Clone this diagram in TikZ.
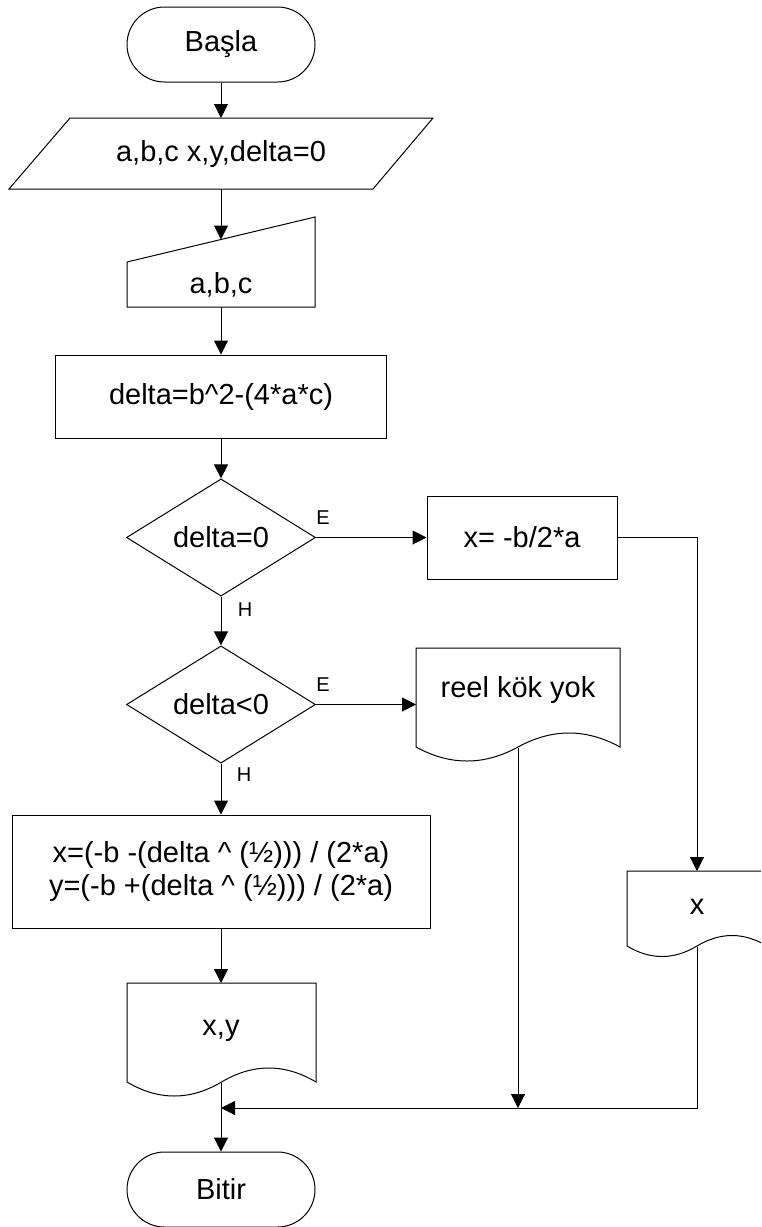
\documentclass[tikz,border=0pt]{standalone}
\usepackage{fontspec}
\setmainfont{Liberation Sans}
\usetikzlibrary{shapes.misc,shapes.geometric,arrows.meta}
\tikzset{
  base/.style={font=\fontsize{14.5pt}{16.5pt}\selectfont, inner sep=0pt, align=center},
  proc/.style={base, draw, rectangle, line width=0.5pt},
  term/.style={base, draw, rounded rectangle, line width=0.5pt, minimum width=94pt, minimum height=37.5pt},
  decide/.style={base, draw, diamond, line width=0.5pt, minimum width=94.5pt, minimum height=56pt},
  ghost/.style={base, rectangle},
  lbl/.style={font=\fontsize{10pt}{12pt}\selectfont, inner sep=0pt},
  conn/.style={line width=0.5pt, -{Triangle[length=7pt,width=7pt]}},
  outline/.style={line width=0.5pt}
}
\newcommand\DocOutline[5]{%
  \draw[outline] (#1,#3) -- (#2,#3) -- (#2,#4)
    .. controls ({#2-(#2-#1)/6},{#4-4*#5/3}) and ({(#1+#2)/2+(#2-#1)/6},{#4-4*#5/3}) .. ({(#1+#2)/2},#4)
    .. controls ({(#1+#2)/2-(#2-#1)/6},{#4+4*#5/3}) and ({#1+(#2-#1)/6},{#4+4*#5/3}) .. (#1,#4) -- cycle;}
\begin{document}
\begin{tikzpicture}[x=0.5pt,y=-0.5pt]
\useasboundingbox (0,0) rectangle (761,1227);
\fill[white] (0,0) rectangle (761,1227);
\begin{scope}
\clip (0,0) rectangle (761,1227);

% start
\node[term] (start) at (221,44.5) {Başla};

% input parallelogram
\draw[outline] (9,189) -- (70,118) -- (433,118) -- (373,189) -- cycle;
\node[ghost, minimum width=181pt, minimum height=35.5pt] (input) at (221,153.5) {a,b,c x,y,delta=0};

% manual input
\draw[outline] (127,262) -- (315,217) -- (315,307) -- (127,307) -- cycle;
\node[ghost, minimum width=94pt, minimum height=45pt] (manual) at (221,262) {};
\node[base] (manualtxt) at (221,285) {a,b,c};
\coordinate (mantop) at (221,239.5);

% delta computation
\node[proc, minimum width=165.5pt, minimum height=41.5pt] (delta) at (221,396.5) {delta=b\^{}2-(4*a*c)};

% decisions
\node[decide] (d1) at (221,537.5) {delta=0};
\node[decide] (d2) at (221,704.5) {delta<0};

% x box
\node[proc, minimum width=95pt, minimum height=41.5pt] (xbox) at (522,537.5) {x= -b/2*a};

% reel kok yok document
\DocOutline{416}{620}{648}{747}{14}
\node[ghost, minimum width=102pt, minimum height=42pt] (reel) at (518,690) {reel kök yok};
\coordinate (reelbot) at (518,748);

% calc box
\node[proc, minimum width=209pt, minimum height=56.5pt] (calc) at (221,871.5)
  {x=(-b -(delta \^{} (½))) / (2*a)\\y=(-b +(delta \^{} (½))) / (2*a)};

% x,y document
\DocOutline{127}{316}{983}{1082}{14}
\node[ghost, minimum width=94.5pt, minimum height=49.5pt] (xydoc) at (221,1031) {x,y};
\coordinate (xytop) at (221,983);
\coordinate (xybot) at (221,1083);

% x document (cut by the right border)
\DocOutline{627}{767}{871}{946}{10.5}
\node[ghost, minimum width=70pt, minimum height=37.5pt] (xdoc) at (697,907) {x};
\coordinate (xdoctop) at (697,871);
\coordinate (xdocbot) at (697,947);

% end
\node[term] (end) at (221,1189.5) {Bitir};

% merge points
\coordinate (mergeA) at (221,1108);
\coordinate (mergeR) at (518,1108);
\coordinate (mergeX) at (697,1108);
\coordinate (inputtop) at (221,118);
\coordinate (inputbot) at (221,189);
\coordinate (manbot) at (221,307);

% connectors
\draw[conn] (start.south) -- (inputtop);
\draw[conn] (inputbot) -- (mantop);
\draw[conn] (manbot) -- (delta.north);
\draw[conn] (delta.south) -- (d1.north);
\draw[conn] (d1.east) -- (xbox.west);
\draw[conn] (d1.south) -- (d2.north);
\draw[conn] (d2.east) -- (416,704.5);
\draw[conn] (d2.south) -- (calc.north);
\draw[conn] (calc.south) -- (xytop);
\draw[conn] (xbox.east) -| (xdoctop);
\draw[conn] (reelbot) -- (mergeR);
\draw[conn] (xdocbot) -- (mergeX) -- (mergeA);
\draw[conn] (xybot) -- (end.north);

% branch labels
\node[lbl] (e1) at (323,518) {E};
\node[lbl] (h1) at (245,610) {H};
\node[lbl] (e2) at (323,685) {E};
\node[lbl] (h2) at (244,775) {H};
\end{scope}
\end{tikzpicture}
\end{document}
